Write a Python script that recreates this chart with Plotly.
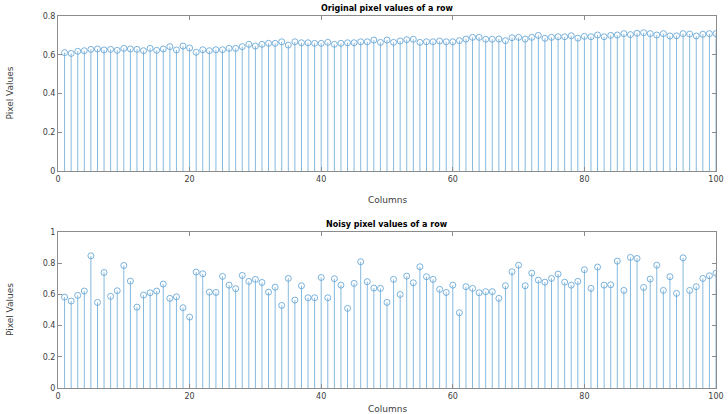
import plotly.graph_objects as go
from plotly.subplots import make_subplots

columns = list(range(1, 101))

original = [0.611, 0.607, 0.618, 0.621, 0.628, 0.630, 0.625, 0.628, 0.623, 0.633,
            0.630, 0.628, 0.621, 0.633, 0.623, 0.630, 0.642, 0.625, 0.645, 0.635,
            0.613, 0.626, 0.621, 0.626, 0.626, 0.633, 0.633, 0.642, 0.654, 0.645,
            0.654, 0.659, 0.659, 0.667, 0.650, 0.667, 0.662, 0.662, 0.659, 0.659,
            0.664, 0.654, 0.659, 0.662, 0.662, 0.667, 0.667, 0.676, 0.664, 0.676,
            0.664, 0.671, 0.678, 0.680, 0.664, 0.667, 0.667, 0.671, 0.667, 0.667,
            0.673, 0.681, 0.690, 0.690, 0.680, 0.680, 0.681, 0.673, 0.688, 0.690,
            0.681, 0.690, 0.700, 0.685, 0.690, 0.693, 0.693, 0.698, 0.686, 0.695,
            0.693, 0.702, 0.693, 0.700, 0.702, 0.709, 0.704, 0.711, 0.714, 0.709,
            0.702, 0.709, 0.697, 0.698, 0.709, 0.707, 0.697, 0.706, 0.709, 0.709]

noisy = [0.583, 0.558, 0.594, 0.622, 0.848, 0.549, 0.741, 0.588, 0.624, 0.786,
         0.686, 0.519, 0.596, 0.611, 0.622, 0.667, 0.575, 0.585, 0.515, 0.455,
         0.744, 0.733, 0.615, 0.613, 0.716, 0.660, 0.637, 0.722, 0.684, 0.697,
         0.677, 0.615, 0.647, 0.530, 0.703, 0.564, 0.656, 0.579, 0.579, 0.709,
         0.579, 0.701, 0.660, 0.511, 0.671, 0.810, 0.682, 0.641, 0.639, 0.549,
         0.697, 0.600, 0.718, 0.675, 0.778, 0.714, 0.697, 0.633, 0.613, 0.660,
         0.483, 0.650, 0.639, 0.611, 0.618, 0.618, 0.575, 0.656, 0.746, 0.788,
         0.656, 0.737, 0.692, 0.679, 0.703, 0.731, 0.679, 0.660, 0.684, 0.759,
         0.639, 0.776, 0.660, 0.662, 0.814, 0.626, 0.838, 0.831, 0.645, 0.699,
         0.788, 0.626, 0.714, 0.607, 0.835, 0.626, 0.650, 0.703, 0.720, 0.737]

stem_color = "#86b9de"
marker_color = "#5a9fd2"
axis_color = "#8c8c8c"
text_color = "#404040"
font_family = "DejaVu Sans"

fig = make_subplots(rows=2, cols=1, vertical_spacing=0.1)


def stems(xs, ys):
    sx, sy = [], []
    for x, y in zip(xs, ys):
        sx += [x, x, None]
        sy += [0, y, None]
    return sx, sy


for row, vals in ((1, original), (2, noisy)):
    sx, sy = stems(columns, vals)
    fig.add_trace(go.Scatter(x=sx, y=sy, mode="lines",
                             line=dict(color=stem_color, width=1),
                             hoverinfo="skip", showlegend=False), row=row, col=1)
    fig.add_trace(go.Scatter(x=columns, y=vals, mode="markers",
                             marker=dict(symbol="circle-open", size=6,
                                         color=marker_color, line=dict(width=0.8)),
                             showlegend=False), row=row, col=1)

axis_common = dict(showline=True, mirror="ticks", linecolor=axis_color, linewidth=1,
                   ticks="inside", ticklen=4, tickcolor=axis_color,
                   showgrid=False, zeroline=False, automargin=False,
                   tickfont=dict(family=font_family, size=8, color=text_color))

fig.update_xaxes(range=[0, 100], tickvals=[0, 20, 40, 60, 80, 100], **axis_common)
fig.update_yaxes(**axis_common)
fig.update_yaxes(range=[0, 0.8], tickvals=[0, 0.2, 0.4, 0.6, 0.8], row=1, col=1)
fig.update_yaxes(range=[0, 1], tickvals=[0, 0.2, 0.4, 0.6, 0.8, 1],
                 ticktext=["0", "0.2", "0.4", "0.6", "0.8", "1"], row=2, col=1)

# plot area: l=58, r=12, t=16, b=26 -> height 372
fig.update_layout(
    width=728, height=414,
    margin=dict(l=58, r=12, t=16, b=26, autoexpand=False),
    paper_bgcolor="white", plot_bgcolor="white",
    font=dict(family=font_family),
    xaxis=dict(domain=[0, 1]),
    yaxis=dict(domain=[0.583, 1.0]),
    xaxis2=dict(domain=[0, 1]),
    yaxis2=dict(domain=[0.0, 0.419]),
)

ann_font = dict(family=font_family, size=9, color=text_color)
title_font = dict(family=font_family, size=8, color="black")
annotations = [
    dict(text="<b>Original pixel values of a row</b>", x=0.5, y=1.0, yshift=1,
         xanchor="center", yanchor="bottom", font=title_font),
    dict(text="<b>Noisy pixel values of a row</b>", x=0.5, y=0.419, yshift=1,
         xanchor="center", yanchor="bottom", font=title_font),
    dict(text="Columns", x=0.5, y=0.583, yshift=-22, xanchor="center", yanchor="top", font=ann_font),
    dict(text="Columns", x=0.5, y=0.0, yshift=-14, xanchor="center", yanchor="top", font=ann_font),
    dict(text="Pixel Values", x=0, xshift=-48, y=(0.583 + 1.0) / 2, textangle=-90,
         xanchor="center", yanchor="middle", font=ann_font),
    dict(text="Pixel Values", x=0, xshift=-48, y=0.419 / 2, textangle=-90,
         xanchor="center", yanchor="middle", font=ann_font),
]
for a in annotations:
    a.update(xref="paper", yref="paper", showarrow=False)
fig.update_layout(annotations=annotations)

fig.write_html("out.html")
